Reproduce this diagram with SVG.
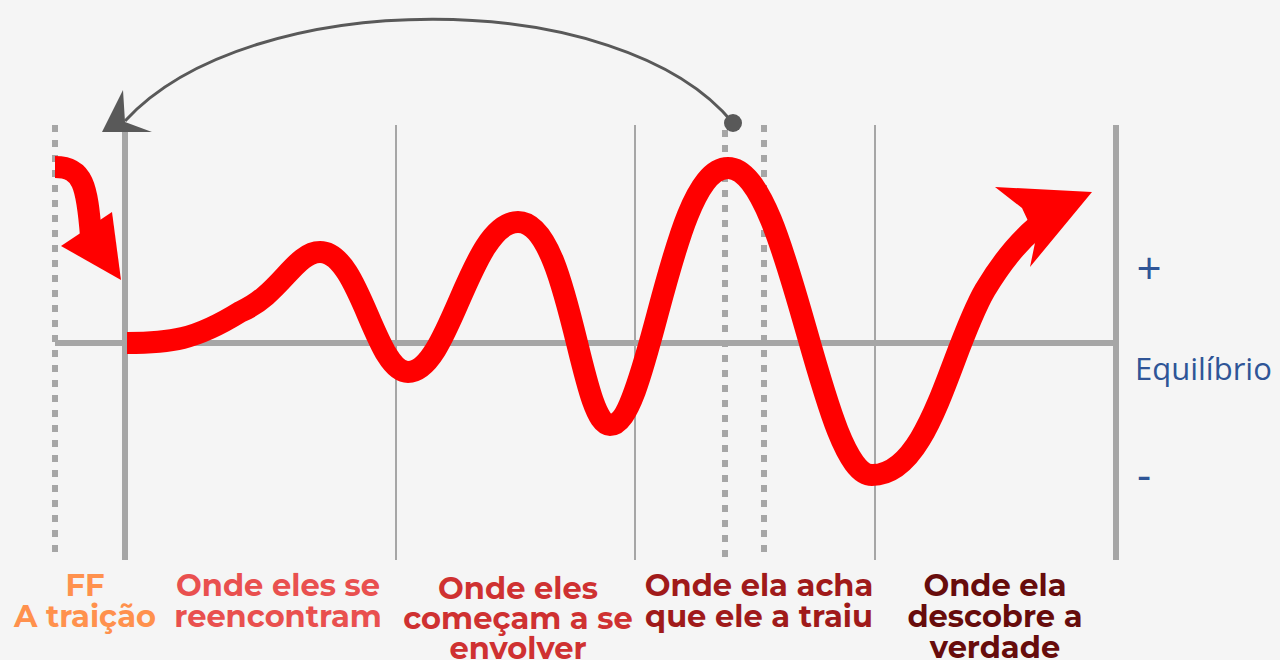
<svg xmlns="http://www.w3.org/2000/svg" width="1280" height="660" viewBox="0 0 1280 660">
<style>
.axis{stroke:#a6a6a6;fill:none}
.dot{stroke:#a6a6a6;stroke-width:6;stroke-dasharray:7 8;fill:none}
.red{stroke:#ff0000;stroke-width:22;fill:none}
.lbl{font-family:Montserrat,"Open Sans","Liberation Sans",sans-serif;font-weight:bold;font-size:30.5px;text-anchor:middle}
.side{font-family:"Open Sans","Liberation Sans",sans-serif;fill:#2f5597;font-size:31px}
.sign{font-family:"Open Sans","Liberation Sans",sans-serif;fill:#2f5597;font-size:44px;text-anchor:middle}
</style>
<rect width="1280" height="660" fill="#f5f5f5"/>
<g id="grid">
<line class="axis" x1="396" y1="125" x2="396" y2="560" stroke-width="2"/>
<line class="axis" x1="635" y1="125" x2="635" y2="560" stroke-width="2"/>
<line class="axis" x1="875" y1="125" x2="875" y2="560" stroke-width="2"/>
<line class="dot" x1="55" y1="125" x2="55" y2="560"/>
<line class="dot" x1="725" y1="130" x2="725" y2="560"/>
<line class="dot" x1="764" y1="125" x2="764" y2="560"/>
<line class="axis" x1="55" y1="343" x2="1116" y2="343" stroke-width="6"/>
<line class="axis" x1="125" y1="130" x2="125" y2="560" stroke-width="6"/>
<line class="axis" x1="1116" y1="125" x2="1116" y2="560" stroke-width="6"/>
</g>
<g id="connectors">
<path d="M733,123 C620,-15 250,-15 125,121" stroke="#595959" stroke-width="3" fill="none"/>
<polygon points="123,90 102,132 152,132 125,122" fill="#595959"/>
<circle cx="733" cy="123" r="9" fill="#595959"/>
</g>
<g id="flashback-arrow">
<path class="red" d="M55,167 C83,167 87,185 91,236" stroke-width="20"/>
<polygon points="61,246 112,212 121,280" fill="#ff0000"/>
</g>
<g id="story-curve">
<path class="red" d="M127,343 C170,343 195,340 240,312 C280,295 295,252 320,252 C360,252 375,372 408,372 C450,372 470,222 518,222 C570,222 580,425 610,425 C650,425 670,168 728,168 C790,168 820,475 872,475 C930,475 950,350 985,290 C1000,265 1015,245 1035,228"/>
<polygon points="995,187 1092,192 1030,267 1036,238 1022,208" fill="#ff0000"/>
</g>
<g id="labels">
<text class="lbl" fill="#ff914d"><tspan x="85" y="596">FF</tspan><tspan x="85" y="627">A traição</tspan></text>
<text class="lbl" fill="#e9504f"><tspan x="278" y="596">Onde eles se</tspan><tspan x="278" y="627">reencontram</tspan></text>
<text class="lbl" fill="#cf3131"><tspan x="518" y="599">Onde eles</tspan><tspan x="518" y="629">começam a se</tspan><tspan x="518" y="659">envolver</tspan></text>
<text class="lbl" fill="#a01a1a"><tspan x="759" y="596">Onde ela acha</tspan><tspan x="759" y="627">que ele a traiu</tspan></text>
<text class="lbl" fill="#670c0c"><tspan x="995" y="596">Onde ela</tspan><tspan x="995" y="627">descobre a</tspan><tspan x="995" y="658">verdade</tspan></text>
</g>
<g id="scale">
<text class="sign" x="1149" y="284">+</text>
<text class="side" x="1135" y="380">Equilíbrio</text>
<text class="sign" x="1144" y="490">-</text>
</g>
</svg>
